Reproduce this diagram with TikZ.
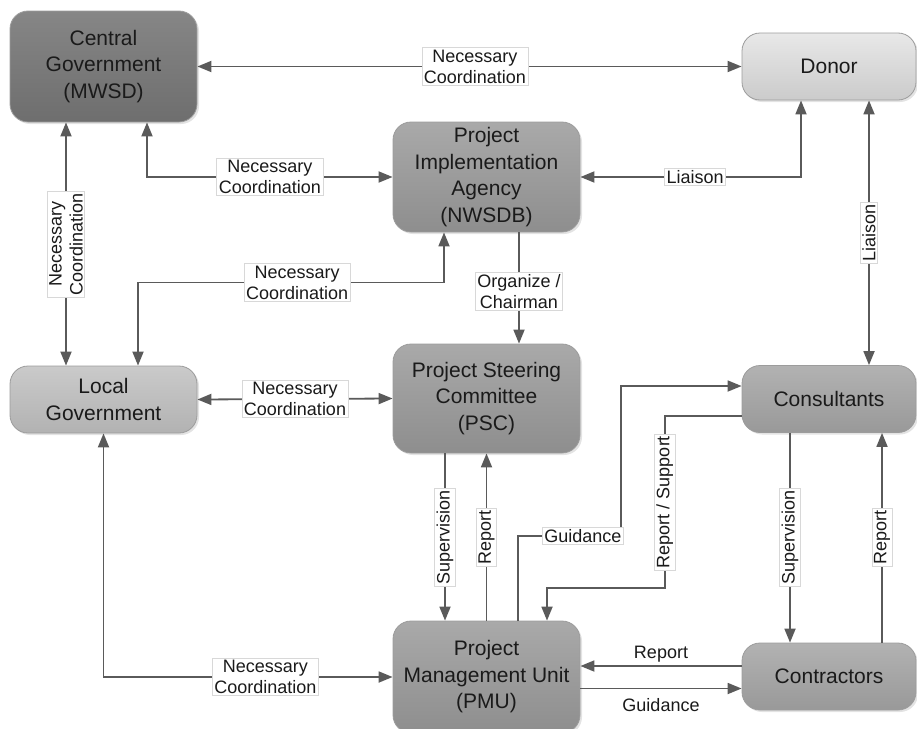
\documentclass[tikz,border=0pt]{standalone}
\usepackage{fontspec}
\setmainfont{Liberation Sans}
\usetikzlibrary{arrows.meta,shadows}
\definecolor{lineC}{HTML}{5A5A5A}
\definecolor{txtC}{HTML}{1A1A1A}
\definecolor{cgTop}{HTML}{868686}
\definecolor{cgBot}{HTML}{6E6E6E}
\definecolor{midTop}{HTML}{A9A9A9}
\definecolor{midBot}{HTML}{8E8E8E}
\definecolor{coTop}{HTML}{B2B2B2}
\definecolor{coBot}{HTML}{999999}
\definecolor{lgTop}{HTML}{CACACA}
\definecolor{lgBot}{HTML}{B2B2B2}
\definecolor{doTop}{HTML}{E8E8E8}
\definecolor{doBot}{HTML}{CBCBCB}
\definecolor{bordC}{HTML}{9C9C9C}
\definecolor{lblBord}{HTML}{D8D8D8}
\begin{document}
\begin{tikzpicture}[x=1pt,y=-1pt,
  orgbox/.style={draw=bordC, line width=0.8pt, rounded corners=18pt, inner sep=0pt,
    align=center, text=txtC, font=\fontsize{21}{26.5}\selectfont,
    drop shadow={opacity=0.22, shadow xshift=2pt, shadow yshift=-2pt}},
  bigbox/.style={orgbox, minimum width=187pt},
  smallbox/.style={orgbox, minimum width=174pt, minimum height=67pt},
  cgfill/.style={top color=cgTop, bottom color=cgBot},
  midfill/.style={top color=midTop, bottom color=midBot},
  cofill/.style={top color=coTop, bottom color=coBot},
  lgfill/.style={top color=lgTop, bottom color=lgBot},
  dofill/.style={top color=doTop, bottom color=doBot},
  conn/.style={draw=lineC, line width=1.8pt, -{Triangle[length=14pt,width=11pt]}},
  bconn/.style={conn, {Triangle[length=14pt,width=11pt]}-{Triangle[length=14pt,width=11pt]}},
  lbl/.style={fill=white, draw=lblBord, line width=0.6pt, inner sep=2pt, align=center,
    text=txtC, font=\fontsize{18}{21}\selectfont},
  plainlbl/.style={inner sep=2pt, text=txtC, font=\fontsize{18}{21}\selectfont}]
\useasboundingbox (0,0) rectangle (917,728);
\clip (0,0) rectangle (917,728);

% nodes
\node[bigbox, cgfill, minimum height=111pt] (CG) at (103.5,66.5) {Central\\Government\\(MWSD)};
\node[smallbox, dofill] (DO) at (829,66.5) {Donor};
\node[bigbox, midfill, minimum height=110pt] (PIA) at (486.5,177) {Project\\Implementation\\Agency\\(NWSDB)};
\node[bigbox, lgfill, minimum height=67pt] (LG) at (103.5,399.5) {Local\\Government};
\node[bigbox, midfill, minimum height=109pt] (PSC) at (486.5,398.5) {Project Steering\\Committee\\(PSC)};
\node[smallbox, cofill] (CO) at (829,399) {Consultants};
\node[bigbox, midfill, minimum height=112pt] (PMU) at (486.5,677) {Project\\Management Unit\\(PMU)};
\node[smallbox, cofill] (CT) at (829,676.5) {Contractors};

% connectors
\draw[bconn] (CG.east) -- node[lbl, pos=0.51] {Necessary\\Coordination} (DO.west);
\draw[bconn] ([xshift=43.5pt]CG.south) |- node[lbl, pos=0.75] {Necessary\\Coordination} (PIA.west);
\draw[bconn] ([xshift=-37.5pt]CG.south) -- node[lbl, rotate=90] {Necessary\\Coordination} ([xshift=-37.5pt]LG.north);
\draw[bconn] ([xshift=-42.5pt]PIA.south) -- ++(0,50) -| node[lbl, pos=0.24] {Necessary\\Coordination} ([xshift=34.5pt]LG.north);
\draw[bconn] (LG.east) -- node[lbl] {Necessary\\Coordination} (PSC.west);
\draw[bconn] (PIA.east) -| node[lbl, pos=0.26] {Liaison} ([xshift=-28pt]DO.south);
\draw[bconn] ([xshift=40pt]DO.south) -- node[lbl, rotate=90] {Liaison} ([xshift=40pt]CO.north);
\draw[conn] ([xshift=32.5pt]PIA.south) -- node[lbl, pos=0.53] {Organize /\\Chairman} ([xshift=32.5pt]PSC.north);
\draw[conn] ([xshift=-41.5pt]PSC.south) -- node[lbl, rotate=90] {Supervision} ([xshift=-41.5pt]PMU.north);
\draw[conn] (PMU.north) -- node[lbl, rotate=90] {Report} (PSC.south);
\draw[conn] ([xshift=31.5pt]PMU.north) -- ++(0,-85) -- node[lbl, pos=0.63] {Guidance} ++(103,0) |- ([yshift=13pt]CO.west);
\draw[conn] ([yshift=-17pt]CO.west) -- ++(-77,0) -- node[lbl, rotate=90] {Report / Support} ++(0,172) -| ([xshift=60.5pt]PMU.north);
\draw[conn] ([xshift=-39pt]CO.south) -- node[lbl, rotate=90] {Supervision} ([xshift=-39pt]CT.north);
\draw[conn] ([xshift=53pt]CT.north) -- node[lbl, rotate=90] {Report} ([xshift=53pt]CO.south);
\draw[conn] ([yshift=10.5pt]CT.west) -- node[plainlbl, above=1pt] {Report} ([yshift=10.5pt]CT.west -| PMU.east);
\draw[conn] ([yshift=-11.5pt]PMU.east) -- node[plainlbl, below=7pt] {Guidance} ([yshift=-11.5pt]PMU.east -| CT.west);
\draw[bconn] (LG.south) |- node[lbl, pos=0.78] {Necessary\\Coordination} (PMU.west);
\end{tikzpicture}
\end{document}
